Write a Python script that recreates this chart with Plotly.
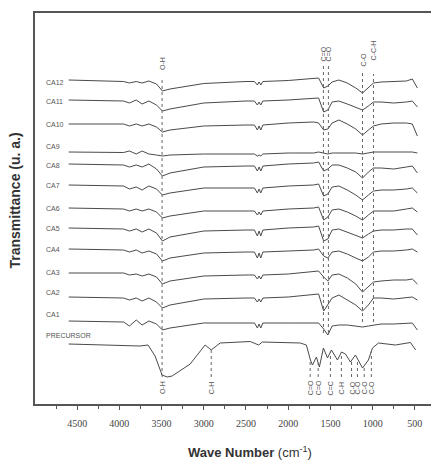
import numpy as np
import plotly.graph_objects as go

# ---------------- data ----------------
wavenumber_ca = [4600, 3950, 3880, 3800, 3730, 3650, 3560, 3490, 3400, 3000, 2500,
                 2400, 2365, 2345, 2325, 2300, 2000, 1700, 1640, 1580, 1530, 1480,
                 1400, 1300, 1200, 1120, 1050, 990, 900, 750, 600, 530, 470]

sample_names = ["CA12", "CA11", "CA10", "CA9", "CA8", "CA7", "CA6",
                "CA5", "CA4", "CA3", "CA2", "CA1"]

# stacking offsets (a.u.)
offsets_ca = [324, 304, 280, 252, 240, 219, 196, 176, 155, 131, 107, 83]
offset_precursor = 60

ca12 = [0, -1.5, -3, -1.5, -3, -1, -4, -11, -9, -3.5, -1.5, -1.5, -5, -2, -5, -1.5, -0.5, 1, 2, -8, -6, -2, 0, -3, -8, -13, -8, -3, -2, -1.5, -1, 1, -8]
ca11 = [0, -1, -3, 0, -4, -1, -5, -11, -9, -3, -1, -1, -5, -2, -5, -1, 0, 1.5, 2, -12, -10, -2, -1, -4, -7, -10, -6, -2, -2, -3, -2, -1, -7]
ca10 = [0, 0, -2, 0, -2, 0, -3, -8, -6, -2, -1, -1, -6, -2, -6, -1, 1, 2, 1, -6, -5, 1, 4, 0, -5, -11, -6, -2, 0, 1, 1, 0, -12]
ca9 = [0, -0.5, 1, -2, 1, -2, -3, -4, -3, -2, -2, -2, -4, -3, -4, -2, -1, -1, 0, -1, -2, -1, -1, -1, -1, -2, -1, 0, 0, 0, 0, 0, -1]
ca8 = [0, -1, -3, -1, -3, 0, -5, -12, -9, -3, -2, -2, -7, -3, -7, -2, 0, 1, 2, -7, -5, -1, -1, -4, -8, -14, -8, -4, -4, -5, -3, -2, -9]
ca7 = [0, -1, -4, -2, -5, -1, -4, -10, -8, -3, -3, -3, -8, -4, -8, -3, -1, 0, 1, -11, -9, -2, -1, -5, -10, -15, -10, -6, -5, -5, -4, -3, -8]
ca6 = [0, -1, -3, -1, -3, -1, -4, -10, -8, -3, -3, -3, -7, -4, -7, -3, -1, 0, 1, -12, -9, -2, -1, -4, -8, -12, -7, -3, -3, -3, -1, 0, -4]
ca5 = [0, -1, -3, -1, -4, -1, -5, -13, -9, -3, -2, -2, -8, -3, -8, -2, 0, 1, 2, -13, -11, -2, -1, -4, -7, -10, -6, -3, -2, -2, -1, -1, -7]
ca4 = [0, -1, -3, -1, -4, -2, -5, -12, -9, -4, -3, -3, -9, -4, -9, -3, -2, -1, 0, -7, -9, -3, -2, -5, -9, -12, -8, -3, -2, -2, -1, 0, -3]
ca3 = [0, 0, -2, -1, -3, -1, -4, -11, -8, -3, -2, -2, -6, -3, -6, -2, -1, 1, 2, -4, -8, -2, -1, -5, -11, -19, -14, -9, -8, -7, -7, -6, -11]
ca2 = [0, -1, -3, -1, -4, -1, -5, -11, -8, -2, -1, -1, -5, -2, -5, -1, 0, 2, 3, -14, -7, -1, 2, -3, -8, -14, -8, -1, -1, -2, -1, 0, -3]
ca1 = [0, -1, -5, 1, -4, 0, -3, -9, -7, -2, -2, -2, -7, -3, -7, -2, -2, -2, -2, -8, -14, -5, -4, -4, -5, -6, -5, -4, -3, -3, -2, -2, -9]
spectra_ca = [ca12, ca11, ca10, ca9, ca8, ca7, ca6, ca5, ca4, ca3, ca2, ca1]

wavenumber_pre = [4600, 3755, 3660, 3577, 3494, 3434, 3375, 3161, 2984, 2912,
                  2806, 2450, 2350, 2307, 1857, 1785, 1737, 1713, 1666, 1631,
                  1583, 1535, 1488, 1417, 1369, 1322, 1263, 1204, 1120, 1050,
                  1002, 931, 730, 552, 490]
precursor = [0, -2, -1, -12, -31, -33, -32, -20, -1, -6,
             1, 2.5, -1, 2, 1, -1, -16, -21, -13, -23,
             -4, -14, -6, -16, -8, -10, -18, -11, -24, -16,
             -4, 1, -1, 1.5, -6]

# label vertical shift relative to each curve
label_shift = [-2, -1, 0, 6, -1, 0, 0, 0, 0, 1, 5, 7, 9]

# assignments (top group)
top_peaks = [3494, 1583, 1524, 1120, 990]
top_labels = ["O-H", "C=O", "C=O", "C-O", "C-C-H"]
top_label_y = [340, 350, 350, 344, 354]
top_line_y = [(27, 327), (71, 338), (71, 338), (82, 334), (82, 330)]

# assignments (precursor)
pre_peaks = [2912, 1740, 1645, 1500, 1370, 1250, 1180, 1100, 1015]
pre_labels = ["C-H", "C=O", "C=O", "C=C", "C-H", "C-O", "C-O", "C-O", "C-O"]
bottom_oh_label = "O-H"

tick_vals = [4500, 4000, 3500, 3000, 2500, 2000, 1500, 1000, 500]
minor_vals = [4750, 4250, 3750, 3250, 2750, 2250, 1750, 1250, 750, 250]

# ---------------- figure ----------------
line_color = "#4a4a4a"
fig = go.Figure()

for name, off, dev in zip(sample_names, offsets_ca, spectra_ca):
    fig.add_trace(go.Scatter(x=wavenumber_ca, y=[off + d for d in dev], mode="lines",
                             line=dict(color=line_color, width=1), name=name,
                             hoverinfo="name"))
pre_y = [offset_precursor + d for d in precursor]
fig.add_trace(go.Scatter(x=wavenumber_pre, y=pre_y, mode="lines",
                         line=dict(color=line_color, width=1), name="PRECURSOR"))

label_font = dict(family="Liberation Sans, Arial", size=7, color="#555")
all_names = sample_names + ["PRECURSOR"]
all_offs = offsets_ca + [offset_precursor]
for name, off, sh in zip(all_names, all_offs, label_shift):
    fig.add_annotation(x=4890, y=off + sh, xref="x", yref="y", text=name,
                       showarrow=False, xanchor="left", yanchor="middle", font=label_font)

shape_line = dict(color="#666", width=1, dash="dot")
peak_font = dict(family="Liberation Sans, Arial", size=7, color="#555")
for wn, lab, ly, (y0, y1) in zip(top_peaks, top_labels, top_label_y, top_line_y):
    fig.add_shape(type="line", x0=wn, x1=wn, y0=y0, y1=y1, xref="x", yref="y", line=shape_line)
    fig.add_annotation(x=wn, y=ly, xref="x", yref="y", text=lab, textangle=-90,
                       showarrow=False, font=peak_font)

# bottom O-H label
fig.add_annotation(x=top_peaks[0], y=16, xref="x", yref="y", text=bottom_oh_label,
                   textangle=-90, showarrow=False, font=peak_font)

for wn, lab in zip(pre_peaks, pre_labels):
    ytop = float(np.interp(wn, wavenumber_pre[::-1], pre_y[::-1]))
    fig.add_shape(type="line", x0=wn, x1=wn, y0=27, y1=ytop, xref="x", yref="y", line=shape_line)
    fig.add_annotation(x=wn, y=16, xref="x", yref="y", text=lab, textangle=-90,
                       showarrow=False, font=peak_font)

fig.add_annotation(x=-0.05, y=0.52, xref="paper", yref="paper", xanchor="center",
                   yanchor="middle", text="<b>Transmittance (u. a.)</b>", textangle=-90,
                   showarrow=False,
                   font=dict(family="Liberation Sans, Arial", size=14, color="#333"))
fig.add_annotation(x=0.532, y=-0.123, xref="paper", yref="paper", xanchor="center",
                   yanchor="middle", text="<b>Wave Number</b> (cm<sup>-1</sup>)",
                   showarrow=False,
                   font=dict(family="Liberation Sans, Arial", size=13, color="#333"))

fig.update_xaxes(range=[4999, 214], tickvals=tick_vals, ticks="outside", ticklen=4,
                 tickcolor="#555", showline=True, linecolor="#555", linewidth=1.5,
                 mirror=True, showgrid=False, zeroline=False,
                 tickfont=dict(family="Liberation Serif, Times New Roman", size=10, color="#444"),
                 ticklabelstandoff=5,
                 minor=dict(tickmode="array", tickvals=minor_vals,
                            ticks="outside", ticklen=3, tickcolor="#555"))
fig.update_yaxes(range=[0, 391], showticklabels=False, ticks="", showline=True,
                 linecolor="#555", linewidth=1.5, showgrid=False, zeroline=False)

# page body adds an 8px margin: compensate so the frame lands where the reference has it
fig.update_layout(width=431, height=454, margin=dict(l=27, r=0, t=5, b=58),
                  plot_bgcolor="white", paper_bgcolor="white", showlegend=False)

fig.write_html("out.html")
